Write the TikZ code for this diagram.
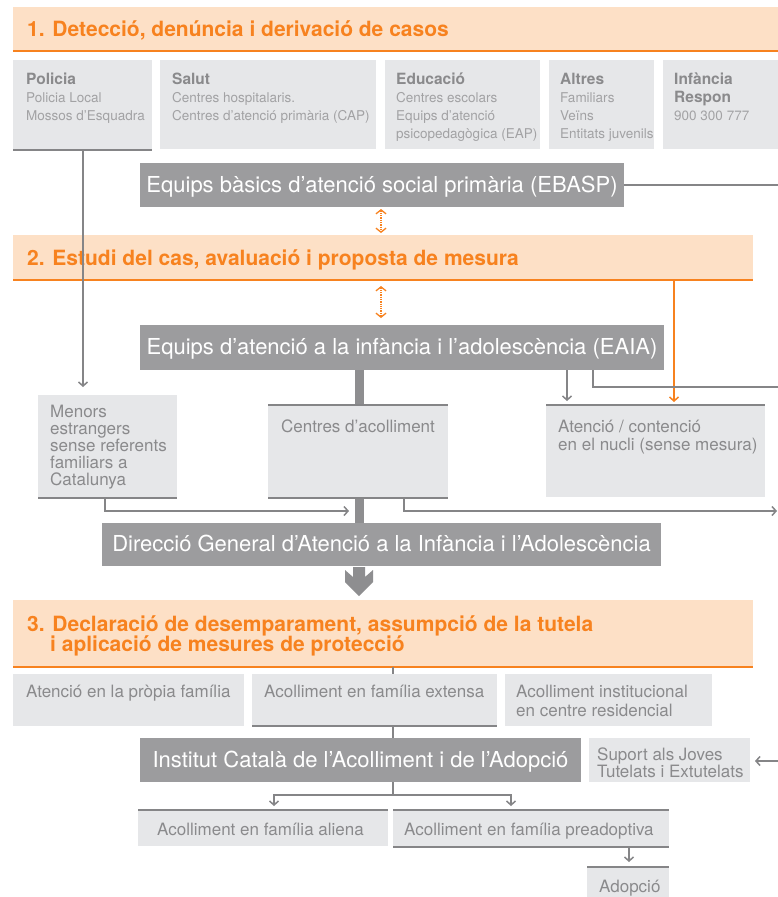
\documentclass[tikz,border=0pt]{standalone}
\usepackage{fontspec}
\setmainfont{TeX Gyre Heros}
\usetikzlibrary{arrows.meta}
\definecolor{orng}{HTML}{F7821F}
\definecolor{hdrfill}{HTML}{FDE0C6}
\definecolor{dgray}{HTML}{9C9C9E}
\definecolor{bargray}{HTML}{8E8E90}
\definecolor{lgray}{HTML}{E6E7E9}
\definecolor{tgray}{HTML}{8A8A8C}
\definecolor{sgray}{HTML}{A2A2A4}
\definecolor{edgegray}{HTML}{858587}
\definecolor{cgray}{HTML}{858587}
\begin{document}
\begin{tikzpicture}[x=1pt,y=-1pt,
  box/.style={inner sep=0pt, outer sep=0pt, anchor=north west, draw=none},
  lbox/.style={box, fill=lgray},
  dbox/.style={box, fill=dgray, text=white, font=\fontsize{22}{24}\selectfont, text height=16pt, text depth=2pt},
  hbox/.style={box, fill=hdrfill},
  htext/.style={anchor=base west, inner sep=0pt, text=orng, font=\fontsize{21}{24}\selectfont\bfseries},
  ttext/.style={anchor=base west, inner sep=0pt, text=tgray, font=\fontsize{15.5}{18}\selectfont\bfseries},
  stext/.style={anchor=base west, inner sep=0pt, text=sgray, font=\fontsize{13.5}{16}\selectfont},
  ltext/.style={anchor=base west, inner sep=0pt, text=tgray, font=\fontsize{17}{20}\selectfont},
  conn/.style={draw=cgray, line width=1.5pt},
  arr/.style={conn, -{Straight Barb[length=4pt,width=9pt]}},
  boxedge/.style={draw=edgegray, line width=2.5pt},
  oline/.style={draw=orng, line width=2.5pt},
  oarr/.style={draw=orng, line width=1.5pt, -{Straight Barb[length=4pt,width=9pt]}},
  odot/.style={draw=orng, line width=1.3pt, densely dotted, {Straight Barb[length=4pt,width=10pt]}-{Straight Barb[length=4pt,width=10pt]}},
  bar/.style={draw=bargray, line width=9pt},
]
\useasboundingbox[fill=white] (0,0) rectangle (778,897);

% ---------- helper x coordinates ----------
\coordinate (xpol) at (83,0);
\coordinate (xdot) at (381,0);
\coordinate (xor) at (674,0);
\coordinate (xbar) at (359,0);
\coordinate (xe1) at (567,0);
\coordinate (xe2) at (593,0);
\coordinate (xmen) at (105,0);
\coordinate (xcen) at (404,0);
\coordinate (xmid) at (393,0);
\coordinate (xali) at (274,0);
\coordinate (xpre) at (511,0);
\coordinate (xado) at (629,0);
\coordinate (r1) at (778,185);
\coordinate (r2) at (778,387);
\coordinate (r4) at (777,511);
\coordinate (m3) at (349,511);
\coordinate (r5) at (778,761);
\coordinate (br) at (393,795);

% ---------- Section 1 ----------
\node[hbox, minimum width=765pt, minimum height=44pt] (h1) at (13,7) {};
\draw[oline] (h1.south west) -- (h1.south east);
\node[htext] (h1t) at (27,36) {1. Detecció, denúncia i derivació de casos};

\node[lbox, minimum width=139pt, minimum height=89pt] (pol) at (13,60) {};
\node[lbox, minimum width=216pt, minimum height=89pt] (sal) at (160,60) {};
\node[lbox, minimum width=155pt, minimum height=89pt] (edu) at (385,60) {};
\node[lbox, minimum width=105pt, minimum height=89pt] (alt) at (549,60) {};
\node[lbox, minimum width=115pt, minimum height=89pt] (inf) at (663,60) {};
\draw[boxedge] ([yshift=-1pt]pol.south west) -- ([yshift=-1pt]pol.south east);

\node[ttext] (polt) at (26,84) {Policia};
\node[stext] (pol1) at (26,102) {Policia Local};
\node[stext] (pol2) at (26,120) {Mossos d’Esquadra};
\node[ttext] (salt) at (172,84) {Salut};
\node[stext] (sal1) at (172,102) {Centres hospitalaris.};
\node[stext] (sal2) at (172,120) {Centres d’atenció primària (CAP)};
\node[ttext] (edut) at (396,84) {Educació};
\node[stext] (edu1) at (396,102) {Centres escolars};
\node[stext] (edu2) at (396,120) {Equips d’atenció};
\node[stext] (edu3) at (396,138) {psicopedagògica (EAP)};
\node[ttext] (altt) at (560,84) {Altres};
\node[stext] (alt1) at (560,102) {Familiars};
\node[stext] (alt2) at (560,120) {Veïns};
\node[stext] (alt3) at (560,138) {Entitats juvenils};
\node[ttext] (inft) at (674,84) {Infància};
\node[ttext] (inft2) at (674,102) {Respon};
\node[stext] (inf1) at (674,120) {900 300 777};

\node[dbox, minimum width=484pt, minimum height=44pt] (ebasp) at (140,163) {Equips bàsics d’atenció social primària (EBASP)};
\draw[conn] (ebasp.east) -- (r1);

% ---------- Section 2 ----------
\node[hbox, minimum width=740pt, minimum height=45pt] (h2) at (13,235) {};
\draw[oline] (h2.south west) -- (h2.south east);
\node[htext] (h2t) at (27,265) {2. Estudi del cas, avaluació i proposta de mesura};

\draw[odot, shorten <=2pt, shorten >=2pt] (ebasp.south -| xdot) -- (h2.north -| xdot);

\node[dbox, minimum width=524pt, minimum height=45pt] (eaia) at (140,325) {Equips d’atenció a la infància i l’adolescència (EAIA)};
\draw[odot, shorten <=6pt, shorten >=7pt] (h2.south -| xdot) -- (eaia.north -| xdot);

\node[dbox, minimum width=559pt, minimum height=43pt] (dir) at (102,523) {Direcció General d’Atenció a la Infància i l’Adolescència};

% thick bar behind the reception centres
\draw[bar] (eaia.south -| xbar) -- (dir.north -| xbar);

\node[lbox, minimum width=139pt, minimum height=103pt] (men) at (38,395) {};
\draw[boxedge] (men.south west) -- (men.south east);
\node[ltext] (men1) at (50,417) {Menors};
\node[ltext] (men2) at (50,434) {estrangers};
\node[ltext] (men3) at (50,451) {sense referents};
\node[ltext] (men4) at (50,468) {familiars a};
\node[ltext] (men5) at (50,485) {Catalunya};

\node[lbox, minimum width=180pt, minimum height=93pt] (cen) at (268,405) {};
\draw[boxedge] (cen.north west) -- (cen.north east);
\draw[boxedge] (cen.south west) -- (cen.south east);
\node[ltext, anchor=base] (cent) at (358,432) {Centres d’acolliment};

\node[lbox, minimum width=219pt, minimum height=92pt] (aten) at (546,405) {};
\draw[boxedge] (aten.north west) -- (aten.north east);
\node[ltext] (aten1) at (558,432) {Atenció / contenció};
\node[ltext] (aten2) at (558,450) {en el nucli (sense mesura)};

\draw[arr, shorten >=8pt] (pol.south -| xpol) -- (men.north -| xpol);
\draw[oarr, shorten >=3pt] (h2.south -| xor) -- (aten.north -| xor);
\draw[arr, shorten >=4pt] (eaia.south -| xe1) -- (aten.north -| xe1);
\draw[conn] (eaia.south -| xe2) |- (r2);
\draw[arr] (men.south -| xmen) |- (m3);
\draw[arr] (cen.south -| xcen) |- (r4);

% big arrow
\fill[bargray] (345,570) -- (353,577) -- (353,567) -- (365,567) -- (365,577) -- (373,570) -- (373,582) -- (359,596) -- (345,582) -- cycle;

% ---------- Section 3 ----------
\node[hbox, minimum width=740pt, minimum height=67pt] (h3) at (13,600) {};
\draw[oline] (h3.south west) -- (h3.south east);
\node[htext] (h3t1) at (27,631) {3. Declaració de desemparament, assumpció de la tutela};
\node[htext] (h3t2) at (50,651) {i aplicació de mesures de protecció};

\node[dbox, minimum width=441pt, minimum height=44pt] (icaa) at (140,738) {Institut Català de l’Acolliment i de l’Adopció};
\draw[conn] (h3.south -| xmid) -- (icaa.north -| xmid);

\node[lbox, minimum width=231pt, minimum height=52pt] (apf) at (13,674) {};
\node[ltext] (apft) at (26,697) {Atenció en la pròpia família};
\node[lbox, minimum width=245pt, minimum height=52pt] (afe) at (252,674) {};
\draw[boxedge] (afe.south west) -- (afe.south east);
\node[ltext] (afet) at (264,697) {Acolliment en família extensa};
\node[lbox, minimum width=207pt, minimum height=52pt] (aci) at (505,674) {};
\node[ltext] (aci1) at (516,697) {Acolliment institucional};
\node[ltext] (aci2) at (516,716) {en centre residencial};

\node[lbox, minimum width=161pt, minimum height=44pt] (sup) at (589,738) {};
\node[ltext] (sup1) at (597,760) {Suport als Joves};
\node[ltext] (sup2) at (597,777) {Tutelats i Extutelats};
\draw[arr, shorten >=5pt] (r5) -- (sup.east |- r5);

\node[lbox, minimum width=250pt, minimum height=36pt] (ali) at (138,810) {};
\draw[boxedge] (ali.north west) -- (ali.north east);
\node[ltext] (alit) at (157,835) {Acolliment en família aliena};
\node[lbox, minimum width=276pt, minimum height=37pt] (pre) at (393,810) {};
\draw[boxedge] (pre.north west) -- (pre.north east);
\draw[boxedge] (pre.south west) -- (pre.south east);
\node[ltext] (pret) at (404,835) {Acolliment en família preadoptiva};
\node[lbox, minimum width=82pt, minimum height=31pt] (ado) at (587,867) {};
\draw[boxedge] (ado.north west) -- (ado.north east);
\node[ltext] (adot) at (599,892) {Adopció};

\draw[conn] (icaa.south -| br) -- (br);
\draw[arr, shorten >=4pt] (br) -| (ali.north -| xali);
\draw[arr, shorten >=4pt] (br) -| (pre.north -| xpre);
\draw[arr, shorten >=5pt] (pre.south -| xado) -- (ado.north -| xado);
\end{tikzpicture}
\end{document}
